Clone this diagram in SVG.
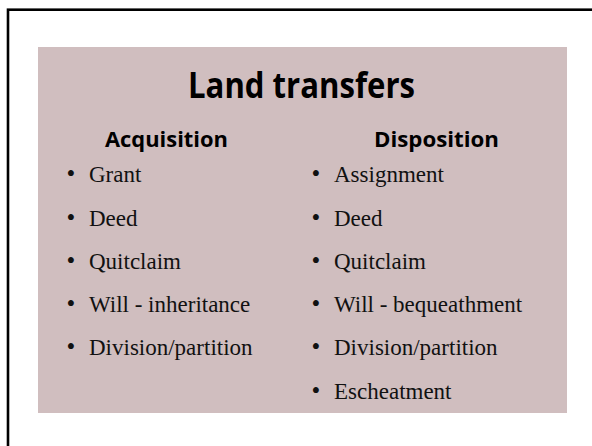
<svg xmlns="http://www.w3.org/2000/svg" width="592" height="446" viewBox="0 0 592 446">
<style>
.frame{fill:none;stroke:#000;stroke-width:2.6}
.panel{fill:#d0bebf}
.title{font-family:"Open Sans","Liberation Sans",sans-serif;font-weight:700;font-size:35px;fill:#000;text-anchor:middle}
.head{font-family:"Open Sans","Liberation Sans",sans-serif;font-weight:700;font-size:22px;fill:#000;text-anchor:middle}
.item{font-family:"Liberation Serif","Times New Roman",serif;font-size:23px;fill:#111}
.bul{font-family:"Liberation Serif",serif;font-size:25px;fill:#111;text-anchor:middle}
</style>
<rect x="0" y="0" width="592" height="446" fill="#fff"/>
<rect class="frame" x="8" y="9.7" width="620" height="470"/>
<g id="panel">
<rect class="panel" x="38" y="47" width="529" height="366"/>
<text class="title" x="301.5" y="98" textLength="227" lengthAdjust="spacingAndGlyphs">Land transfers</text>
</g>
<g id="acquisition">
<text class="head" x="166.5" y="147" textLength="123" lengthAdjust="spacingAndGlyphs">Acquisition</text>
<text class="bul" x="71" y="182">•</text><text class="item" x="89" y="182">Grant</text>
<text class="bul" x="71" y="225.5">•</text><text class="item" x="89" y="225.5">Deed</text>
<text class="bul" x="71" y="268.5">•</text><text class="item" x="89" y="268.5">Quitclaim</text>
<text class="bul" x="71" y="312">•</text><text class="item" x="89" y="312">Will - inheritance</text>
<text class="bul" x="71" y="355">•</text><text class="item" x="89" y="355">Division/partition</text>
</g>
<g id="disposition">
<text class="head" x="436.5" y="147" textLength="125" lengthAdjust="spacingAndGlyphs">Disposition</text>
<text class="bul" x="316" y="182">•</text><text class="item" x="334" y="182">Assignment</text>
<text class="bul" x="316" y="225.5">•</text><text class="item" x="334" y="225.5">Deed</text>
<text class="bul" x="316" y="268.5">•</text><text class="item" x="334" y="268.5">Quitclaim</text>
<text class="bul" x="316" y="312">•</text><text class="item" x="334" y="312">Will - bequeathment</text>
<text class="bul" x="316" y="355">•</text><text class="item" x="334" y="355">Division/partition</text>
<text class="bul" x="316" y="398.5">•</text><text class="item" x="334" y="398.5">Escheatment</text>
</g>
</svg>
